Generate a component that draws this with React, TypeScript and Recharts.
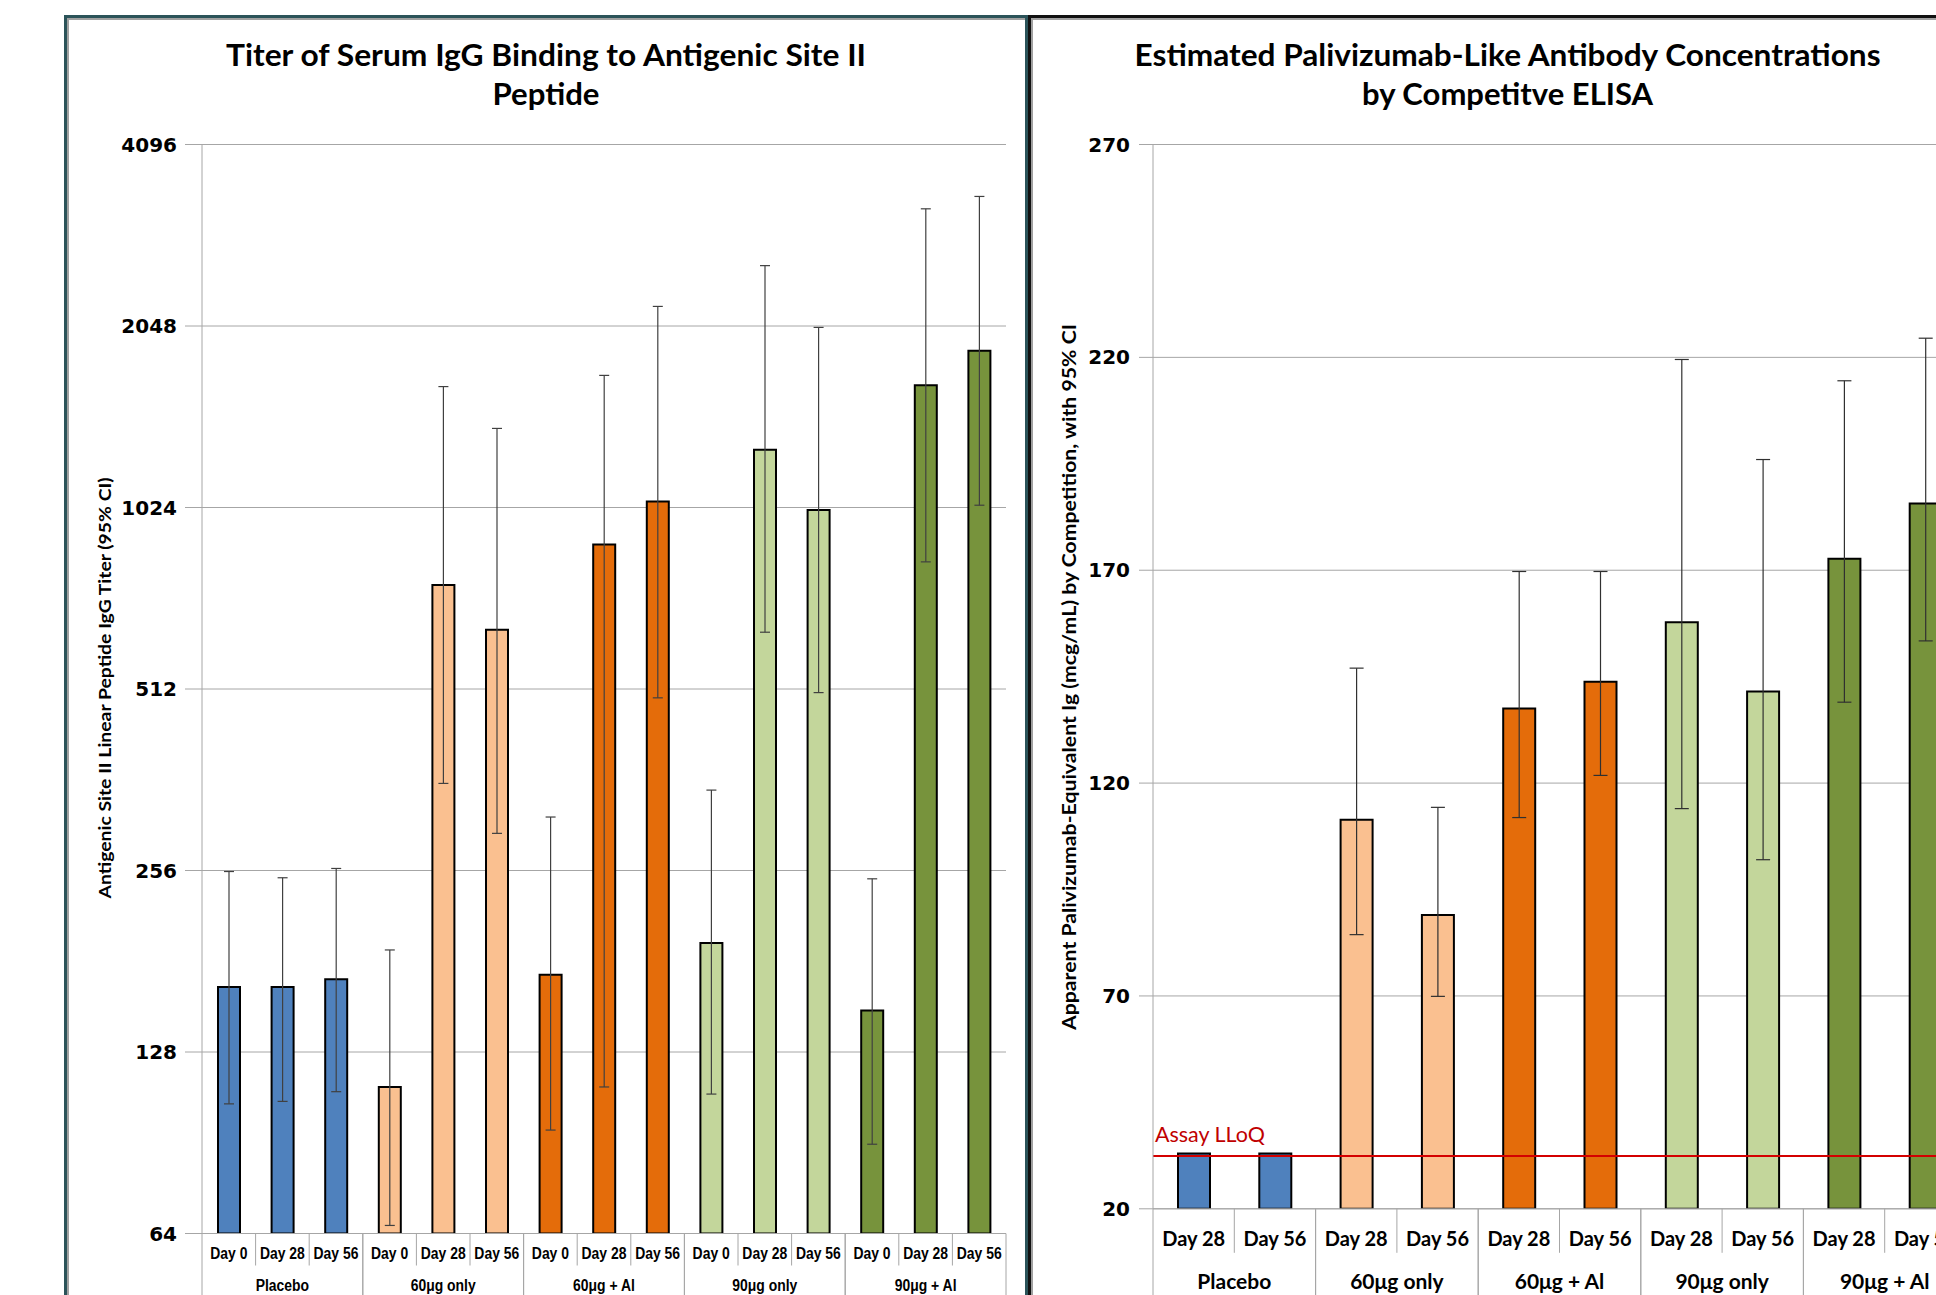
import React from "react";
import {
  Bar,
  BarChart,
  CartesianGrid,
  Cell,
  ErrorBar,
  ReferenceLine,
  XAxis,
  YAxis,
} from "recharts";

const GROUPS = ["Placebo", "60μg only", "60μg + Al", "90μg only", "90μg + Al"];
const GROUP_COLORS = ["#4F81BD", "#FAC090", "#E46C0A", "#C3D69B", "#77933C"];

// left panel: antigenic site II peptide titer (GMT + 95% CI)
const TITER_DAYS = ["Day 0", "Day 28", "Day 56"];
const TITER_GMT = [164, 164, 169, 112, 762, 642, 172, 889, 1048, 194, 1277, 1014, 150, 1633, 1864];
const TITER_LOW = [105, 106, 110, 66, 357, 295, 95, 112, 495, 109, 636, 505, 90, 832, 1033];
const TITER_HIGH = [255, 249, 258, 189, 1625, 1385, 314, 1696, 2207, 348, 2579, 2037, 248, 3204, 3359];
const TITER_TICKS = [64, 128, 256, 512, 1024, 2048, 4096];

// right panel: palivizumab-like antibody by competitive ELISA
const ELISA_DAYS = ["Day 28", "Day 56"];
const ELISA_MEAN = [33, 33, 111.4, 89, 137.5, 143.8, 157.8, 141.5, 172.7, 185.7];
const ELISA_LOW = [null, null, 84.4, 69.9, 111.9, 121.8, 114, 102, 139, 153.4];
const ELISA_HIGH = [null, null, 147, 114.3, 169.7, 169.7, 219.5, 196, 214.5, 224.5];
const ELISA_TICKS = [20, 70, 120, 170, 220, 270];
const LLOQ = 32.4;

const titerRows = TITER_GMT.map((v, i) => ({
  key: "t" + i,
  day: TITER_DAYS[i % TITER_DAYS.length],
  group: Math.floor(i / TITER_DAYS.length),
  value: v,
  err: [v - TITER_LOW[i], TITER_HIGH[i] - v],
}));

const elisaRows = ELISA_MEAN.map((v, i) => ({
  key: "e" + i,
  day: ELISA_DAYS[i % ELISA_DAYS.length],
  group: Math.floor(i / ELISA_DAYS.length),
  value: v,
  err: ELISA_LOW[i] == null ? null : [v - ELISA_LOW[i], ELISA_HIGH[i] - v],
}));

const SEP = "#a6a6a6";
const ARIAL = "'Liberation Sans', Arial, sans-serif";
const CAL = "Lato, 'Open Sans', sans-serif";

function Label2({ x, y, size, font, sx, children }) {
  return (
    <text
      transform={`translate(${x},${y}) scale(${sx},1)`}
      dy="0.35em"
      textAnchor="middle"
      fontFamily={font}
      fontWeight={700}
      fontSize={size}
      fill="#000"
    >
      {children}
    </text>
  );
}

function makeTick(rows, perGroup, band, o) {
  return (props) => {
    const { x, y, index } = props;
    const row = rows[index];
    if (!row) return null;
    const pos = index % perGroup;
    const left = x - band / 2;
    const right = x + band / 2;
    const groupCenter = left - pos * band + (perGroup * band) / 2;
    return (
      <g>
        {pos === 0 && <line x1={left} x2={left} y1={y} y2={y + 140} stroke={SEP} />}
        <line
          x1={right}
          x2={right}
          y1={y}
          y2={y + (pos === perGroup - 1 ? 140 : o.shortLen)}
          stroke={SEP}
        />
        <Label2 x={x} y={y + o.dayDy} size={o.daySize} font={o.font} sx={o.sx}>
          {row.day}
        </Label2>
        {pos === 0 && (
          <Label2 x={groupCenter} y={y + o.groupDy} size={o.groupSize} font={o.font} sx={o.sx}>
            {GROUPS[row.group]}
          </Label2>
        )}
      </g>
    );
  };
}

function TiterChart() {
  const W = 964, H = 1280, yW = 138, mr = 22;
  const band = (W - yW - mr) / titerRows.length;
  const tick = makeTick(titerRows, TITER_DAYS.length, band, {
    font: ARIAL, sx: 0.82, daySize: 17, groupSize: 17, dayDy: 20, groupDy: 51.5, shortLen: 32,
  });
  return (
    <BarChart width={W} height={H} data={titerRows} margin={{ top: 129.5, right: mr, bottom: 0, left: 0 }}>
      <CartesianGrid vertical={false} stroke={SEP} />
      <XAxis
        dataKey="key"
        interval={0}
        tickSize={0}
        tickMargin={0}
        height={61.5}
        axisLine={{ stroke: SEP }}
        tickLine={false}
        tick={tick}
      />
      <YAxis
        type="number"
        scale="log"
        domain={[64, 4096]}
        ticks={TITER_TICKS}
        allowDataOverflow
        interval={0}
        width={yW}
        tickSize={17}
        tickMargin={8}
        axisLine={{ stroke: SEP }}
        tickLine={{ stroke: SEP }}
        tick={{ fill: "#000", fontSize: 20, fontWeight: 700, fontFamily: "'DejaVu Sans', sans-serif" }}
      />
      <Bar dataKey="value" barSize={22} stroke="#000" strokeWidth={2} isAnimationActive={false}>
        {titerRows.map((r) => (
          <Cell key={r.key} fill={GROUP_COLORS[r.group]} />
        ))}
        <ErrorBar dataKey="err" width={5} stroke="#404040" strokeWidth={1.2} direction="y" />
      </Bar>
    </BarChart>
  );
}

function ElisaChart() {
  const W = 1000, H = 1280, yW = 125, mr = 62;
  const band = (W - yW - mr) / elisaRows.length;
  const tick = makeTick(elisaRows, ELISA_DAYS.length, band, {
    font: CAL, sx: 1, daySize: 20, groupSize: 21, dayDy: 30, groupDy: 73, shortLen: 44,
  });
  return (
    <BarChart width={W} height={H} data={elisaRows} margin={{ top: 129.5, right: mr, bottom: 0, left: 0 }}>
      <CartesianGrid vertical={false} stroke={SEP} />
      <XAxis
        dataKey="key"
        interval={0}
        tickSize={0}
        tickMargin={0}
        height={86.2}
        axisLine={{ stroke: SEP }}
        tickLine={false}
        tick={tick}
      />
      <YAxis
        type="number"
        domain={[20, 270]}
        ticks={ELISA_TICKS}
        allowDataOverflow
        interval={0}
        width={yW}
        tickSize={14}
        tickMargin={9}
        axisLine={{ stroke: SEP }}
        tickLine={{ stroke: SEP }}
        tick={{ fill: "#000", fontSize: 20, fontWeight: 700, fontFamily: "'DejaVu Sans', sans-serif" }}
      />
      <Bar dataKey="value" barSize={32} stroke="#000" strokeWidth={2} isAnimationActive={false}>
        {elisaRows.map((r) => (
          <Cell key={r.key} fill={GROUP_COLORS[r.group]} />
        ))}
        <ErrorBar dataKey="err" width={7} stroke="#303030" strokeWidth={1.2} direction="y" />
      </Bar>
      <ReferenceLine
        y={LLOQ}
        stroke="#d40000"
        strokeWidth={2}
        ifOverflow="extendDomain"
        label={{
          content: (p) => (
            <text
              x={p.viewBox.x + 2}
              y={p.viewBox.y - 14}
              fill="#c00000"
              fontSize={21}
              fontFamily={CAL}
              textLength={110}
              lengthAdjust="spacingAndGlyphs"
            >
              Assay LLoQ
            </text>
          ),
        }}
      />
    </BarChart>
  );
}

function FitText({ x, y, len, size, children, rotate = false }) {
  return (
    <text
      x={rotate ? 0 : x}
      y={rotate ? 0 : y}
      transform={rotate ? `translate(${x},${y}) rotate(-90)` : undefined}
      dy={rotate ? "0.35em" : undefined}
      textAnchor="middle"
      fontFamily={CAL}
      fontWeight={700}
      fontSize={size}
      fill="#000"
      textLength={len}
      lengthAdjust="spacingAndGlyphs"
    >
      {children}
    </text>
  );
}

export default function App() {
  return (
    <div
      style={{
        position: "absolute",
        left: 0,
        top: 0,
        width: 1936,
        height: 1295,
        overflow: "hidden",
        background: "#fff",
      }}
    >
      <div
        style={{
          position: "absolute",
          left: 64,
          top: 15,
          width: 964,
          height: 1320,
          boxSizing: "border-box",
          border: "3px solid #2b5359",
          boxShadow: "inset 2px 2px 0 #a0a0a0",
        }}
      />
      <div
        style={{
          position: "absolute",
          left: 1028,
          top: 15,
          width: 1000,
          height: 1320,
          boxSizing: "border-box",
          border: "3px solid #111",
          boxShadow: "inset 2px 2px 0 #a0a0a0",
        }}
      />
      <div style={{ position: "absolute", left: 64, top: 15 }}>
        <TiterChart />
      </div>
      <div style={{ position: "absolute", left: 1028, top: 15 }}>
        <ElisaChart />
      </div>
      <svg
        width={1936}
        height={1295}
        style={{ position: "absolute", left: 0, top: 0, pointerEvents: "none" }}
      >
        <FitText x={546} y={66} len={640} size={31}>
          Titer of Serum IgG Binding to Antigenic Site II
        </FitText>
        <FitText x={546} y={105} len={107} size={31}>
          Peptide
        </FitText>
        <FitText x={1507.6} y={66} len={746} size={31}>
          Estimated Palivizumab-Like Antibody Concentrations
        </FitText>
        <FitText x={1507.6} y={105} len={291} size={31}>
          by Competitve ELISA
        </FitText>
        <FitText x={105} y={688} len={421} size={17} rotate>
          Antigenic Site II Linear Peptide IgG Titer (95% CI)
        </FitText>
        <FitText x={1069} y={677} len={706} size={19} rotate>
          Apparent Palivizumab-Equivalent Ig (mcg/mL) by Competition, with 95% CI
        </FitText>
      </svg>
    </div>
  );
}
